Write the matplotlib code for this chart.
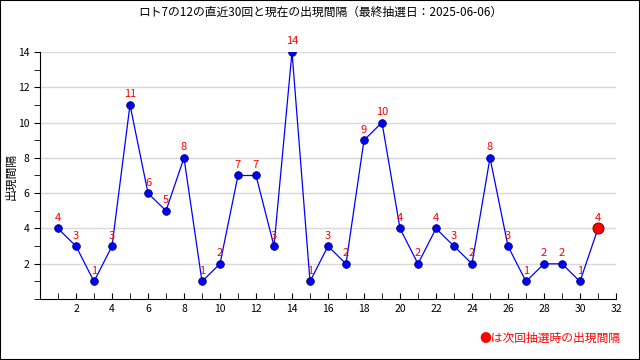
import matplotlib
matplotlib.use('Agg')
import matplotlib.pyplot as plt
from matplotlib.patches import Rectangle

plt.rcParams['font.family'] = ['Noto Sans CJK JP', 'DejaVu Sans']

draws = list(range(1, 32))
gaps = [4, 3, 1, 3, 11, 6, 5, 8, 1, 2, 7, 7, 3, 14, 1, 3, 2, 9, 10, 4,
        2, 4, 3, 2, 8, 3, 1, 2, 2, 1, 4]
title = 'ロト7の12の直近30回と現在の出現間隔（最終抽選日：2025-06-06）'

fig = plt.figure(figsize=(6.4, 3.6), dpi=100)
ax = fig.add_axes([0.0625, 0.169, 0.9, 0.687])

ax.plot(draws, gaps, color='blue', lw=0.9, zorder=2)
ax.plot(draws[:-1], gaps[:-1], 'o', color='blue', mec='#000066', mew=0.6, ms=5.5, zorder=3)
ax.plot(draws[-1:], gaps[-1:], 'o', color='red', mec='#660000', mew=0.6, ms=8, zorder=3, clip_on=False)

for x, y in zip(draws, gaps):
    ax.annotate(str(y), (x, y), xytext=(0, 4), textcoords='offset points',
                ha='center', va='bottom', color='red', fontsize=8, annotation_clip=False)

ax.set_xlim(0, 32)
ax.set_ylim(0, 14)
ax.set_xticks(range(2, 33, 2))
ax.set_xticks(range(0, 33), minor=True)
ax.set_yticks(range(2, 15, 2))
ax.set_yticks(range(0, 15), minor=True)
ax.tick_params(axis='x', which='both', direction='in', length=4, labelsize=7.5)
ax.tick_params(axis='y', which='both', direction='out', length=4, labelsize=7.5)
ax.grid(axis='y', which='major', color='#d9d9d9', lw=1)
ax.set_axisbelow(True)
for s in ['top', 'right']:
    ax.spines[s].set_visible(False)

fig.text(0.017, 0.51, '出現間隔', rotation=90, ha='center', va='center', fontsize=8.5)
fig.text(0.5, 0.965, title, ha='center', va='center', fontsize=8.5)
fig.text(0.969, 0.06, '●は次回抽選時の出現間隔', ha='right', va='center', color='red', fontsize=8.5)

fig.patches.append(Rectangle((0, 0), 1, 1, transform=fig.transFigure, fill=False,
                             ec='black', lw=1.5))

fig.savefig('out.png', dpi=100)
